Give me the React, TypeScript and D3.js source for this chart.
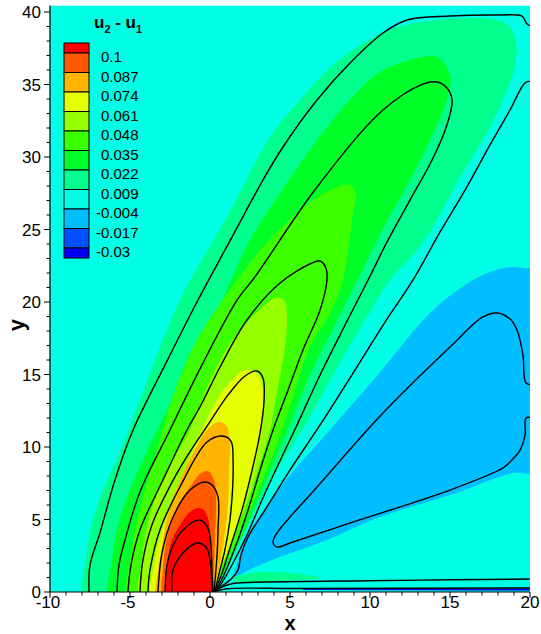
import React from 'react';
import * as d3 from 'd3';

type P = [number, number];

const xMajorTicks = [-10, -5, 0, 5, 10, 15, 20];
const yMajorTicks = [0, 5, 10, 15, 20, 25, 30, 35, 40];
const xMinorTicks = d3.range(-10, 21, 1);
const yMinorTicks = d3.range(0, 41, 1);

const legendLevels = ['0.1', '0.087', '0.074', '0.061', '0.048', '0.035', '0.022', '0.009', '-0.004', '-0.017', '-0.03'];
const bandColors = ['#FF0000', '#FF5A00', '#FFB400', '#E6FF00', '#96FF00', '#3CFF00', '#00FF28', '#00FF8C', '#00FFE4', '#00BEFF', '#0050FF', '#0000FF'];

// Filled band boundaries (x, y)
const bandNeg004: P[] = [[1.5,0.83],[1.75,2.21],[2.19,3.59],[3.13,5.31],[5.0,8.07],[7.5,11.17],[10.63,15.17],[13.75,19.24],[15.94,21.17],[17.5,22.07],[18.75,22.41],[19.69,22.34],[20.4,22.2],[20.4,8.3],[18.94,8.21],[15.0,6.69],[10.63,5.17],[7.31,3.59],[4.38,2.41],[2.19,1.38]];
const blob009: P[] = [[1.44,0.97],[2.5,1.31],[4.06,1.38],[5.63,1.24],[6.88,0.97],[5.31,0.83],[3.13,0.69],[1.63,0.69]];
const stripNeg03: P[] = [[5.8,0.13],[20.5,0.1],[20.5,0.24],[5.8,0.19]];
const band009: P[] = [[-7.88,-0.6],[-7.75,2.21],[-7.4,4.6],[-6.7,7.0],[-5.56,9.79],[-4.38,13.24],[-1.88,20.14],[1.06,25.86],[3.75,31.38],[5.63,33.93],[7.5,36.14],[9.38,37.72],[11.56,38.9],[13.75,39.38],[17.5,39.52],[18.63,39.1],[19.13,37.93],[19.0,36.0],[18.31,33.93],[17.5,32.07],[15.44,28.2],[13.31,24.07],[11.25,21.52],[9.5,18.41],[7.69,14.97],[5.94,11.52],[4.38,8.76],[3.0,6.0],[2.0,3.79],[1.25,2.07],[0.63,0.69],[0.25,-0.6],[-3.8,-2]];
const band022: P[] = [[-6.25,-0.6],[-6.13,2.21],[-5.75,4.62],[-5.0,7.03],[-3.75,10.14],[-2.19,13.59],[-0.63,17.03],[0.75,20.14],[2.5,24.28],[4.38,27.52],[6.69,31.17],[8.75,33.93],[10.63,35.86],[12.5,36.69],[14.19,36.9],[15.0,35.66],[14.81,33.93],[13.75,31.17],[12.5,28.41],[10.94,25.31],[9.38,21.86],[7.81,18.41],[6.25,14.97],[5.13,11.86],[4.06,9.1],[3.0,6.34],[2.06,3.93],[1.25,2.07],[0.56,0.69],[0.25,-0.6],[-3,-2]];
const band035: P[] = [[-5.13,-0.6],[-5.0,2.21],[-4.56,4.97],[-3.88,7.72],[-3.13,10.48],[-2.19,13.93],[-0.81,17.38],[1.25,20.83],[3.31,23.79],[5.44,26.14],[7.5,27.72],[8.75,28.07],[9.13,27.38],[8.94,26.14],[8.31,21.52],[7.5,19.24],[6.25,16.9],[5.19,13.45],[4.5,11.17],[3.56,8.41],[2.63,6.0],[1.75,3.79],[1.06,2.07],[0.5,0.62],[0.19,-0.6],[-2.5,-2]];
const band048: P[] = [[-4.38,-0.6],[-4.25,2.21],[-3.75,5.31],[-2.81,8.07],[-1.25,11.17],[-0.44,13.45],[0.63,16.0],[1.88,18.07],[3.31,19.66],[4.06,20.28],[4.63,20.14],[4.81,19.1],[4.69,16.9],[4.25,14.14],[3.75,11.17],[3.0,8.41],[2.25,6.0],[1.5,3.93],[0.81,2.07],[0.38,0.62],[0.13,-0.6],[-2,-2]];
const band061: P[] = [[-3.63,-0.6],[-3.44,2.21],[-3.0,4.28],[-2.31,6.34],[-1.06,9.79],[0.44,13.24],[1.38,14.62],[2.19,15.31],[2.81,15.17],[3.25,14.28],[3.19,10.97],[2.5,7.52],[1.88,5.31],[1.25,3.24],[0.63,1.52],[0.25,0.34],[0.06,-0.6],[-1.8,-2]];
const band074: P[] = [[-3.31,-0.6],[-3.25,1.52],[-3.0,3.1],[-2.63,5.45],[-1.88,7.72],[-1.06,9.59],[-0.19,11.17],[0.5,11.72],[1.0,11.52],[1.25,10.48],[1.19,8.41],[1.13,6.14],[0.75,2.69],[0.31,0.34],[0.06,-0.6],[-1.6,-2]];
const band087: P[] = [[-2.94,-0.6],[-2.94,1.52],[-2.69,3.79],[-2.06,5.86],[-1.25,7.24],[-0.63,8.14],[-0.13,8.34],[0.25,7.72],[0.38,6.34],[0.31,3.79],[0.19,0.34],[0.06,-0.6],[-1.4,-2]];
const band100: P[] = [[-2.63,-0.6],[-2.63,2.21],[-2.38,3.59],[-1.88,4.62],[-1.25,5.52],[-0.75,5.79],[-0.38,5.66],[-0.13,5.1],[0.0,3.93],[0.06,2.21],[0.13,-0.6],[-1.2,-2]];

// Contour lines (x, y)
const line1: P[] = [[-2.38,0],[-2.31,1.52],[-1.69,2.69],[-0.81,3.38],[-0.25,3.1],[0.0,2.21],[0.13,0]];
const line2: P[] = [[-2.81,0],[-2.69,1.86],[-2.38,3.03],[-1.69,4.28],[-0.63,4.97],[-0.13,4.41],[0.06,3.24],[0.13,1.17],[0.19,0]];
const line3: P[] = [[-3.25,0],[-3.0,2.69],[-2.31,5.17],[-1.25,7.03],[-0.31,7.59],[0.13,7.38],[0.5,6.55],[0.5,4.28],[0.44,2.55],[0.25,0]];
const line4: P[] = [[-3.88,0],[-3.75,1.52],[-3.13,4.28],[-1.88,7.24],[-0.19,10.34],[0.75,10.76],[1.31,10.41],[1.44,9.1],[1.3,5.5],[0.95,3.0],[0.55,1.2],[0.3,0]];
const line5: P[] = [[-4.38,0],[-4.19,2.21],[-3.63,4.62],[-2.63,7.03],[-1.38,9.45],[-0.13,11.52],[1.13,13.59],[2.19,14.9],[2.94,15.24],[3.31,14.76],[3.38,13.24],[3.13,10.97],[2.63,8.41],[2.0,5.66],[1.31,3.24],[0.75,1.3],[0.25,0]];
const line6: P[] = [[-5.13,0],[-4.94,1.86],[-4.38,4.28],[-2.94,7.72],[-1.44,11.17],[-0.63,12.76],[0.63,15.52],[2.31,18.76],[4.38,21.31],[6.38,22.69],[6.88,22.83],[7.25,22.34],[7.31,21.52],[6.88,19.45],[5.81,16.69],[4.88,13.93],[3.94,11.17],[3.13,8.41],[2.38,5.66],[1.56,3.03],[0.81,1.03],[0.31,0]];
const line7: P[] = [[-5.81,0],[-5.69,1.86],[-5.31,3.59],[-4.38,6.9],[-2.5,11.17],[-0.5,15.66],[1.7,20.14],[2.8,21.72],[6.69,27.93],[10.81,33.24],[13.31,35.03],[14.19,35.17],[14.81,34.76],[15.13,33.93],[14.81,32.21],[13.88,29.79],[12.5,27.03],[11.13,24.28],[9.88,21.52],[8.44,18.41],[6.88,14.97],[5.44,11.52],[4.25,8.76],[3.25,6.34],[2.31,3.93],[1.44,2.0],[0.69,0.55],[0.31,0]];
const line8a: P[] = [[-7.56,0],[-7.5,1.86],[-6.88,4.07],[-5.94,7.72],[-4.81,11.17],[-2.81,15.66],[-0.75,20.14],[1.28,24.28],[3.31,28.41],[4.56,30.69],[6.69,33.93],[8.75,36.48],[10.81,38.55],[12.31,39.45],[15.0,39.72],[18.13,39.79],[19.5,39.72],[19.81,39.17],[20.2,38.97]];
const line8b: P[] = [[20.2,35.17],[19.75,35.17],[18.75,33.24],[17.5,30.83],[15.94,27.72],[14.38,24.83],[12.69,21.52],[10.94,18.62],[9.06,15.31],[6.88,11.52],[5.0,8.41],[3.44,5.66],[2.38,3.79],[1.94,2.55],[1.75,1.52],[1.38,0.97],[0.75,0.41],[0.19,0]];
const lineNeg: P[] = [[20.2,12.0],[19.75,12.0],[19.69,10.83],[19.38,9.79],[18.75,8.97],[18.31,8.55],[15.0,7.03],[8.75,4.76],[5.0,3.38],[4.19,3.1],[3.94,3.45],[4.19,4.07],[6.69,7.24],[10.81,12.34],[15.0,16.9],[17.06,18.97],[17.94,19.24],[18.75,18.83],[19.19,18.07],[19.56,16.34],[19.75,14.41],[20.2,14.28]];
const lineWall1: P[] = [[0.19,0],[0.75,0.34],[1.44,0.59],[3.56,0.69],[9.81,0.78],[15,0.84],[20.2,0.9]];
const lineWall2: P[] = [[0.19,0],[0.94,0.21],[5.63,0.24],[20.2,0.28]];

const FONT = "'Liberation Sans', Arial, Helvetica, sans-serif";

export default function App() {
  const x = d3.scaleLinear().domain([-10, 20]).range([50, 530]);
  const y = d3.scaleLinear().domain([0, 40]).range([592, 12]);
  const plotTop = y(40.45);

  const smoothClosed = d3.line<P>().x(d => x(d[0])).y(d => y(d[1])).curve(d3.curveCatmullRomClosed.alpha(0.5));
  const linearClosed = d3.line<P>().x(d => x(d[0])).y(d => y(d[1])).curve(d3.curveLinearClosed);
  const smoothOpen = d3.line<P>().x(d => x(d[0])).y(d => y(d[1])).curve(d3.curveCatmullRom.alpha(0.5));

  const fills: { pts: P[]; color: string; linear?: boolean }[] = [
    { pts: bandNeg004, color: bandColors[9] },
    { pts: blob009, color: bandColors[7] },
    { pts: stripNeg03, color: bandColors[11], linear: true },
    { pts: band009, color: bandColors[7] },
    { pts: band022, color: bandColors[6] },
    { pts: band035, color: bandColors[5] },
    { pts: band048, color: bandColors[4] },
    { pts: band061, color: bandColors[3] },
    { pts: band074, color: bandColors[2] },
    { pts: band087, color: bandColors[1] },
    { pts: band100, color: bandColors[0] },
  ];
  const lines = [line1, line2, line3, line4, line5, line6, line7, line8a, line8b, lineNeg, lineWall1, lineWall2];

  const boxTops = [43, 53, 72.5, 92, 111.5, 131, 150.5, 170, 189.5, 209, 228.5, 248];
  const boxBottom = 258;

  return (
    <svg width={541} height={634} style={{ position: 'absolute', left: 0, top: 0, background: '#fff' }} fontFamily={FONT}>
      <defs>
        <clipPath id="plotClip">
          <rect x={x(-10)} y={plotTop} width={x(20) - x(-10)} height={y(0) - plotTop} />
        </clipPath>
      </defs>
      <g clipPath="url(#plotClip)">
        <rect x={x(-10)} y={plotTop} width={x(20) - x(-10)} height={y(0) - plotTop} fill={bandColors[8]} />
        {fills.map((f, i) => (
          <path key={i} d={(f.linear ? linearClosed : smoothClosed)(f.pts) || ''} fill={f.color} stroke="none" />
        ))}
        {lines.map((l, i) => (
          <path key={'l' + i} d={smoothOpen(l) || ''} fill="none" stroke="#000" strokeWidth={1.4} strokeLinejoin="round" />
        ))}
      </g>

      {/* axes */}
      <line x1={x(-10)} x2={x(-10)} y1={plotTop} y2={y(0)} stroke="#000" strokeWidth={1.2} />
      <line x1={x(-10)} x2={x(20)} y1={y(0)} y2={y(0)} stroke="#000" strokeWidth={1.2} />
      {xMinorTicks.map(v => (
        <line key={'xm' + v} x1={x(v)} x2={x(v)} y1={y(0)} y2={y(0) + (v % 5 === 0 ? 6 : 3.5)} stroke="#000" strokeWidth={1} />
      ))}
      {yMinorTicks.map(v => (
        <line key={'ym' + v} x1={x(-10)} x2={x(-10) - (v % 5 === 0 ? 6 : 3.5)} y1={y(v)} y2={y(v)} stroke="#000" strokeWidth={1} />
      ))}
      {xMajorTicks.map(v => (
        <text key={'xt' + v} x={x(v) - (v < 0 ? 2 : 0)} y={608} textAnchor="middle" fontSize={17} fill="#000">{v}</text>
      ))}
      {yMajorTicks.map(v => (
        <text key={'yt' + v} x={41} y={y(v) + 6} textAnchor="end" fontSize={17} fill="#000">{v}</text>
      ))}
      <text x={290} y={630} textAnchor="middle" fontSize={20} fontWeight="bold" fill="#000">x</text>
      <text transform={`translate(24, 325) rotate(-90)`} textAnchor="middle" fontSize={22} fontWeight="bold" fill="#000">y</text>

      {/* legend */}
      <text x={94} y={28} fontSize={17} fontWeight="bold" fill="#000">
        u<tspan dy={5} fontSize={11}>2</tspan><tspan dy={-5} fontSize={17}> - u</tspan><tspan dy={5} fontSize={11}>1</tspan>
      </text>
      {bandColors.map((c, i) => {
        const top = boxTops[i];
        const bottom = i + 1 < boxTops.length ? boxTops[i + 1] : boxBottom;
        return <rect key={'lb' + i} x={64} y={top} width={25} height={bottom - top} fill={c} stroke="#000" strokeWidth={1} />;
      })}
      {legendLevels.map((lab, i) => (
        <text key={'ll' + i} x={lab.startsWith('-') ? 96 : 101} y={62 + 19.5 * i} fontSize={15} fill="#000">{lab}</text>
      ))}
    </svg>
  );
}
